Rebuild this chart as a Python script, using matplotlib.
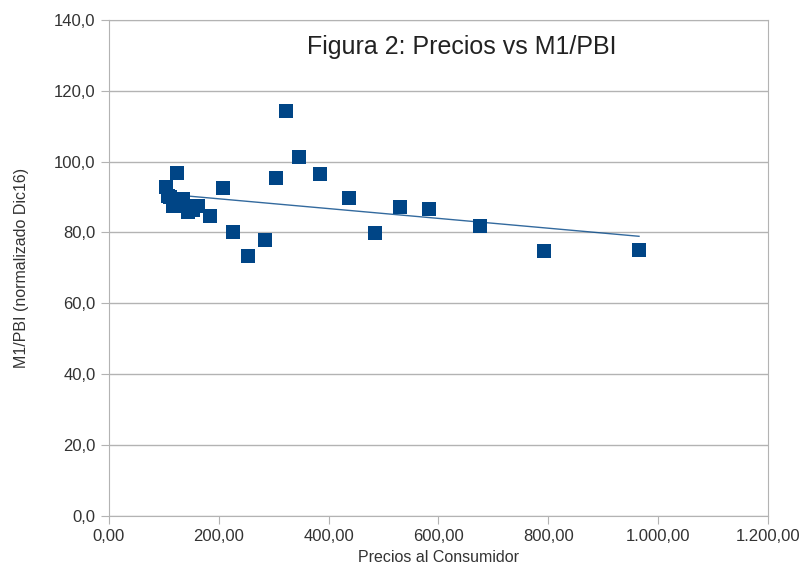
import matplotlib.pyplot as plt
import numpy as np
from matplotlib.ticker import FuncFormatter, MultipleLocator

plt.rcParams["font.family"] = ["Liberation Sans", "DejaVu Sans"]

# Precios al Consumidor vs M1/PBI (normalizado Dic16)
precios = [105, 108, 111, 117, 125, 135, 141, 144, 153, 163, 184, 207, 226,
           254, 285, 305, 322, 347, 385, 438, 485, 530, 583, 676, 792, 965]
m1_pbi = [92.9, 90.2, 89.9, 87.4, 96.7, 89.5, 87.4, 85.9, 86.4, 87.4, 84.6,
          92.5, 80.0, 73.5, 77.9, 95.3, 114.2, 101.4, 96.4, 89.6, 79.9, 87.2,
          86.6, 81.9, 74.8, 75.1]

blue = "#004586"
grey = "#b3b3b3"


def fmt_num(v, decimals):
    s = f"{v:,.{decimals}f}"
    return s.replace(",", "X").replace(".", ",").replace("X", ".")


fig = plt.figure(figsize=(8.06, 5.70), dpi=100)
ax = fig.add_axes([0.135, 0.095, 0.818, 0.870])

x = np.array(precios)
y = np.array(m1_pbi)
ax.scatter(x, y, marker="s", s=105, color=blue, zorder=3, linewidths=0)

# linear trend line
k, b = np.polyfit(x, y, 1)
xl = np.array([x.min(), x.max()])
ax.plot(xl, k * xl + b, color=blue, lw=1.0, alpha=0.8, zorder=2)

ax.set_xlim(0, 1200)
ax.set_ylim(0, 140)
ax.xaxis.set_major_locator(MultipleLocator(200))
ax.yaxis.set_major_locator(MultipleLocator(20))
ax.xaxis.set_major_formatter(FuncFormatter(lambda v, p: fmt_num(v, 2)))
ax.yaxis.set_major_formatter(FuncFormatter(lambda v, p: fmt_num(v, 1)))

ax.grid(axis="y", color=grey, lw=1.0)
ax.set_axisbelow(True)
for sp in ax.spines.values():
    sp.set_color(grey)
ax.tick_params(colors=grey, labelcolor="#333333", labelsize=12, length=6,
               direction="out")

ax.set_xlabel("Precios al Consumidor", fontsize=11.5, color="#333333",
              labelpad=4)
ax.set_ylabel("M1/PBI (normalizado Dic16)", fontsize=11.5, color="#333333",
              labelpad=18)

ax.text(0.536, 0.945, "Figura 2: Precios vs M1/PBI", transform=ax.transAxes,
        ha="center", va="center", fontsize=18, color="#222222")

fig.savefig("out.png", dpi=100)
